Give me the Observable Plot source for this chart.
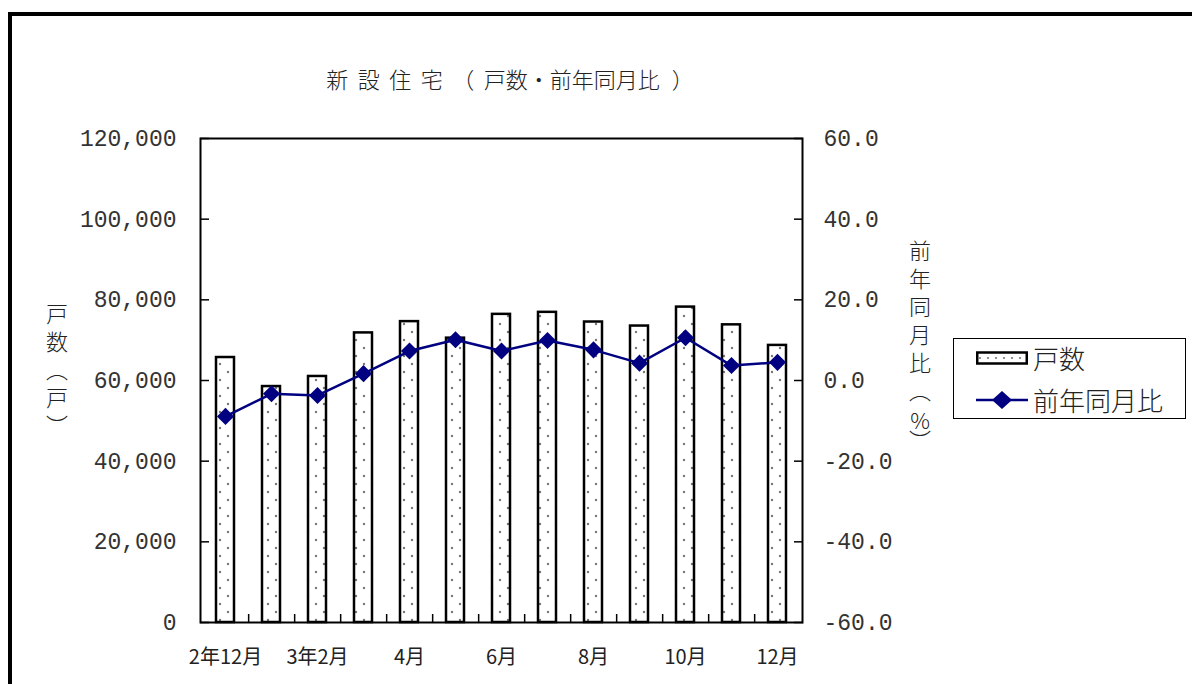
<!DOCTYPE html>
<html><head><meta charset="utf-8">
<script src="https://cdn.jsdelivr.net/npm/d3@7"></script>
<script src="https://cdn.jsdelivr.net/npm/@observablehq/plot@0.6"></script>
<style>
html,body{margin:0;padding:0;background:#fff;}
#wrap{position:relative;width:1192px;height:684px;overflow:hidden;background:#fff;font-family:"Noto Sans CJK JP","Noto Sans",sans-serif;color:#222;}
#border{position:absolute;left:8px;top:12px;width:1400px;height:900px;border-top:4px solid #000;border-left:4px solid #000;}
#chart{position:absolute;left:0;top:0;}
#title{position:absolute;left:310px;width:400px;top:67px;text-align:center;font-size:22px;line-height:22px;white-space:nowrap;font-weight:300;}
.vlab{position:absolute;writing-mode:vertical-rl;font-size:22px;line-height:22px;letter-spacing:6px;white-space:nowrap;font-weight:300;}
#legend{position:absolute;left:953px;top:338px;width:231px;height:79px;border:1.5px solid #000;background:#fff;}
.lrow{position:absolute;left:22px;height:30px;display:flex;align-items:center;}
.lrow span{font-size:26px;line-height:30px;margin-left:5px;font-weight:300;}
</style>
</head><body>
<div id="wrap">
  <div id="border"></div>
  <div id="chart"></div>
  <div id="title"><span style="letter-spacing:9.5px">新設住宅（</span><span>戸数・前年同月比</span><span style="margin-left:12px">）</span></div>
  <div class="vlab" id="ylabL" style="left:46px;top:303px;">戸数（戸）</div>
  <div class="vlab" id="ylabR" style="left:909px;top:240px;">前年同月比（<span style="text-combine-upright:all">%</span>）</div>
  <div id="legend">
    <div class="lrow" style="top:4px;">
      <svg width="52" height="16"><defs><pattern id="dotsL" width="8" height="16" patternUnits="userSpaceOnUse"><rect width="8" height="16" fill="#fff"/><circle cx="4" cy="8" r="1.1" fill="#777"/></pattern></defs><rect x="1.25" y="2.5" width="49.5" height="11" fill="url(#dotsL)" stroke="#000" stroke-width="2.5"/></svg>
      <span id="leg1"></span>
    </div>
    <div class="lrow" style="top:46px;">
      <svg width="52" height="22"><line x1="0" y1="11" x2="52" y2="11" stroke="#000080" stroke-width="2.5"/><path d="M26,2 L36,11 L26,20 L16,11 Z" fill="#000080"/></svg>
      <span id="leg2"></span>
    </div>
  </div>
</div>
<script>
// ---- data ----
const months = ["2年12月","3年1月","3年2月","3年3月","3年4月","3年5月","3年6月","3年7月","3年8月","3年9月","3年10月","3年11月","3年12月"];
const units = [65700, 58500, 61000, 71800, 74600, 70500, 76400, 76900, 74500, 73500, 78200, 73800, 68700];
const yoy = [-8.9, -3.3, -3.7, 1.7, 7.3, 10.1, 7.3, 9.9, 7.6, 4.3, 10.6, 3.7, 4.5];
const tickMonths = ["2年12月","3年2月","3年4月","3年6月","3年8月","3年10月","3年12月"];
const tickText = ["2年12月","3年2月","4月","6月","8月","10月","12月"];
const leftTicks = [0, 20000, 40000, 60000, 80000, 100000, 120000];
const seriesNames = ["戸数", "前年同月比"];

document.getElementById("leg1").textContent = seriesNames[0];
document.getElementById("leg2").textContent = seriesNames[1];

// ---- layout ----
const W = 1192, H = 684, mL = 200, mR = 390, mT = 138, mB = 62;
const step = (W - mL - mR) / months.length;
// right axis (-60..60 %) mapped onto left axis (0..120000)
const pctToY = p => 60000 + p * 1000;
const yToPct = y => (y - 60000) / 1000;

const rows = months.map((m, i) => ({m, u: units[i], p: pctToY(yoy[i])}));
const mono = "'Liberation Mono', 'DejaVu Sans Mono', monospace";
const cjk = "'Noto Sans CJK JP', sans-serif";

const plot = Plot.plot({
  width: W, height: H,
  marginLeft: mL, marginRight: mR, marginTop: mT, marginBottom: mB,
  style: {fontFamily: cjk, background: "transparent", color: "#222"},
  x: {type: "band", domain: months, paddingInner: 0.6, paddingOuter: 0.3, label: null, axis: null},
  y: {domain: [0, 120000], label: null, axis: null},
  marks: [
    Plot.barY(rows, {x: "m", y: "u", fill: "url(#dots)", stroke: "#000", strokeWidth: 2.5}),
    Plot.lineY(rows, {x: "m", y: "p", stroke: "#000080", strokeWidth: 2.5}),
    Plot.dot(rows, {x: "m", y: "p", symbol: "diamond2", r: 7.7, fill: "#000080", stroke: "none"}),
    Plot.frame({stroke: "#000", strokeWidth: 2}),
    Plot.axisY({anchor: "left", ticks: leftTicks, tickSize: -9, stroke: "#000", strokeWidth: 1.5, fill: "none", label: null}),
    Plot.axisY({anchor: "left", ticks: leftTicks, tickSize: 0, tickPadding: 24, tickFormat: d3.format(","), fontSize: 23, fontFamily: mono, fill: "#333", label: null}),
    Plot.axisY({anchor: "right", ticks: leftTicks, tickSize: -9, stroke: "#000", strokeWidth: 1.5, fill: "none", label: null}),
    Plot.axisY({anchor: "right", ticks: leftTicks, tickSize: 0, tickPadding: 21, tickFormat: d => yToPct(d).toFixed(1), fontSize: 23, fontFamily: mono, fill: "#333", label: null}),
    Plot.axisX({anchor: "bottom", ticks: months.slice(0, -1), tickSize: -8, dx: step / 2, stroke: "#000", strokeWidth: 1.5, fill: "none", label: null}),
    Plot.axisX({anchor: "bottom", ticks: tickMonths, tickSize: 0, tickPadding: 27, tickFormat: m => tickText[tickMonths.indexOf(m)], fontSize: 20, fill: "#222", label: null})
  ]
});

const ns = "http://www.w3.org/2000/svg";
const defs = document.createElementNS(ns, "defs");
defs.innerHTML = '<pattern id="dots" width="16" height="16" patternUnits="userSpaceOnUse"><rect width="16" height="16" fill="#fff"/><circle cx="4" cy="4" r="1.2" fill="#777"/><circle cx="12" cy="12" r="1.2" fill="#777"/></pattern>';
plot.insertBefore(defs, plot.firstChild);
document.getElementById("chart").appendChild(plot);
</script>
</body></html>
